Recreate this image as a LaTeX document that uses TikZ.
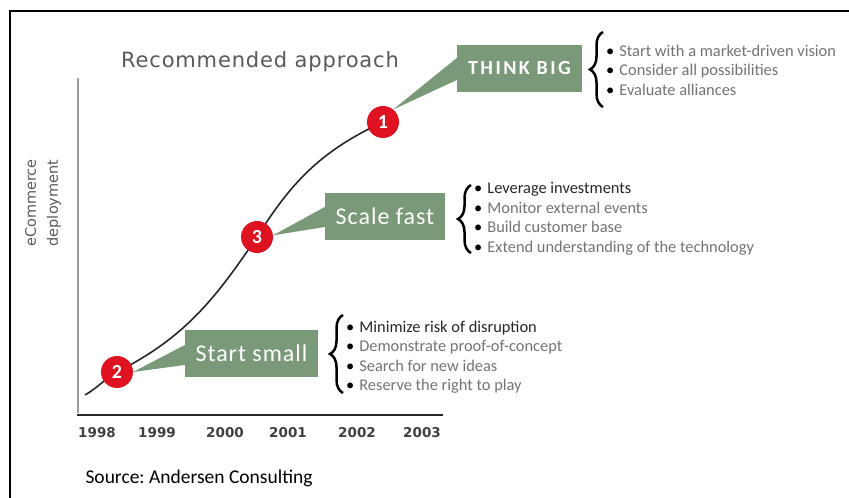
\documentclass[tikz,border=0pt]{standalone}
\usepackage{fontspec}
\setmainfont{Carlito}
\newfontfamily\verafont{DejaVu Sans}
\newfontfamily\titlefont[LetterSpace=4]{DejaVu Sans}
\usetikzlibrary{positioning,calc,decorations.pathreplacing}
\definecolor{stagegreen}{RGB}{122,153,120}
\definecolor{markred}{RGB}{222,18,32}
\definecolor{listgray}{gray}{0.45}
\definecolor{axisgray}{gray}{0.6}
\newcommand{\itm}[1]{{\color{black}\textbullet}\hspace{5pt}#1}
\frenchspacing

\begin{document}
\begin{tikzpicture}[x=1pt, y=1pt,
  stage/.style={fill=stagegreen, text=white, inner sep=0pt, minimum height=47pt,
    font=\fontsize{24}{26}\selectfont\addfontfeature{LetterSpace=4}},
  callout/.style={fill=stagegreen},
  marker/.style={circle, fill=markred, text=white, minimum size=32pt, inner sep=0pt,
    font=\bfseries\fontsize{20}{20}\selectfont},
  items/.style={align=left, anchor=west, inner sep=0pt, text=listgray,
    font=\fontsize{16.4}{19.5}\selectfont},
  brace/.style={decorate, decoration={brace, amplitude=13pt}, line width=2.5pt},
  yearlbl/.style={text=black!75, font=\verafont\bfseries\fontsize{13.5}{14}\selectfont},
  curve/.style={line width=1.6pt, draw=black!85}
]
\useasboundingbox (0,0) rectangle (849,498);
\draw[line width=1.4pt] (10,0) -- (10,487) -- (849,487);

\node[text=black!65, font=\titlefont\fontsize{21}{23}\selectfont] (title) at (260,436) {Recommended approach};
\node[rotate=90, align=center, text=black!65, font=\verafont\fontsize{14.5}{22}\selectfont] (ylabel) at (43,295)
  {eCommerce\\deployment};

\draw[axisgray, line width=2pt] (78,85) -- (78,420);
\draw[line width=2.2pt, black!85] (77,83) -- (443,83);
\foreach \yr/\px in {1998/97,1999/157,2000/225,2001/288,2002/357,2003/422}
  \node[yearlbl] (y\yr) at (\px,65) {\yr};
\node[anchor=west, font=\fontsize{19.5}{21}\selectfont] (src) at (82,20) {Source: Andersen Consulting};

\coordinate (p0) at (85,103);
\coordinate (p2) at (117,126);
\coordinate (p3) at (257,261);
\coordinate (p1) at (383,376);

\node[stage, minimum width=125pt, font=\bfseries\fontsize{20}{22}\selectfont\addfontfeature{LetterSpace=12}]
  (big) at (519.5,429.5) {THINK BIG};
\node[stage, minimum width=120pt] (fast) at (385,281.5) {Scale fast};
\node[stage, minimum width=133pt] (small) at (251.5,144.5) {Start small};

\fill[callout] ($(p1)+(51:16)$) -- ([yshift=10.5pt]big.west) -- ([yshift=-11.5pt]big.west) -- cycle;
\fill[callout] ($(p3)+(6:16)$) -- ([yshift=9.5pt]fast.west) -- ([yshift=-10.5pt]fast.west) -- cycle;
\fill[callout] ($(p2)+(0:16)$) -- ([yshift=8.5pt]small.west) -- ([yshift=-11.5pt]small.west) -- cycle;

\draw[curve] (p0) to[out=30,in=210] (p2) to[out=27,in=236] (p3) to[out=58,in=205] (p1);

\node[marker] (m1) at (p1) {1};
\node[marker] (m3) at (p3) {3};
\node[marker] (m2) at (p2) {2};

\node[items] (l1) at (606,428) {\itm{Start with a market-driven vision}\\\itm{Consider all possibilities}\\
  \itm{Evaluate alliances}};
\node[items] (l3) at (474,279) {\itm{\color{black!85}Leverage investments}\\\itm{Monitor external events}\\
  \itm{Build customer base}\\\itm{Extend understanding of the technology}};
\node[items] (l2) at (346,141) {\itm{\color{black!85}Minimize risk of disruption}\\\itm{Demonstrate proof-of-concept}\\
  \itm{Search for new ideas}\\\itm{Reserve the right to play}};

\draw[brace] ($(l1.west)+(-3,-37)$) -- ($(l1.west)+(-3,38)$);
\draw[brace] ($(l3.west)+(-3,-34)$) -- ($(l3.west)+(-3,34)$);
\draw[brace] ($(l2.west)+(-3,-36)$) -- ($(l2.west)+(-3,42)$);
\end{tikzpicture}
\end{document}
